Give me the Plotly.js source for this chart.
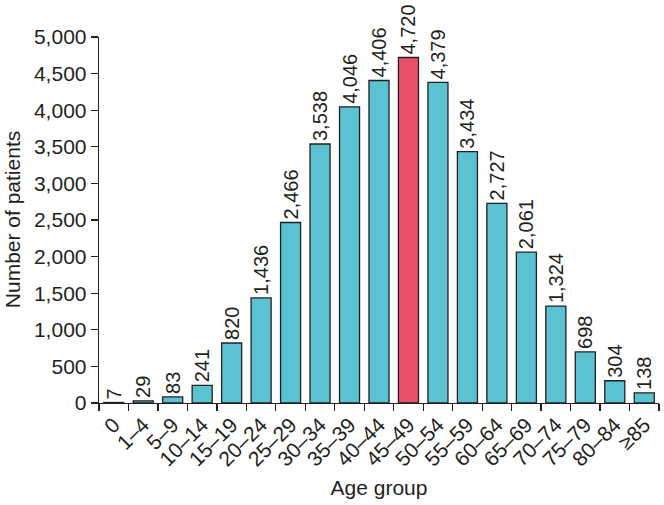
<!DOCTYPE html>
<html><head><meta charset="utf-8">
<script src="https://cdn.plot.ly/plotly-3.0.1.min.js"></script>
<style>html,body{margin:0;padding:0;background:#fff}#c{width:664px;height:505px}</style>
</head><body><div id="c"></div>
<script>
const ageGroups = ["0","1–4","5–9","10–14","15–19","20–24","25–29","30–34","35–39","40–44","45–49","50–54","55–59","60–64","65–69","70–74","75–79","80–84","≥85"];
const patients = [7,29,83,241,820,1436,2466,3538,4046,4406,4720,4379,3434,2727,2061,1324,698,304,138];
const highlightGroup = "45–49";
const yTicks = [0,500,1000,1500,2000,2500,3000,3500,4000,4500,5000];
const xTitle = "Age group";
const yTitle = "Number of patients";

const colors = ageGroups.map(g => g === highlightGroup ? "#E9506B" : "#5BC2D1");
const ink = "#231F20";
const fam = "Liberation Sans, Arial, sans-serif";
const fs = 20;
const trace = {
  type: "bar", x: ageGroups, y: patients,
  marker: {color: colors, line: {color: ink, width: 1.3}},
  texttemplate: "%{y:,}", textposition: "outside", textangle: -90,
  constraintext: "none",
  textfont: {family: fam, size: fs, color: ink},
  cliponaxis: false, hoverinfo: "none"
};
const layout = {
  width: 664, height: 505,
  margin: {l: 99, r: 5, t: 37, b: 102},
  paper_bgcolor: "#fff", plot_bgcolor: "#fff",
  bargap: 0.32, showlegend: false,
  font: {family: fam, size: fs, color: ink},
  xaxis: {
    type: "category", tickangle: -45, tickson: "boundaries", automargin: false,
    ticks: "outside", ticklen: 7, tickcolor: ink, tickwidth: 1.3,
    showline: true, linecolor: ink, linewidth: 1.3, showgrid: false,
    tickfont: {size: 21, color: ink},
    title: {text: xTitle, font: {size: 21, color: ink}, standoff: 10}
  },
  yaxis: {
    range: [0, 5000], tickvals: yTicks, tickformat: ",", automargin: false,
    ticks: "outside", ticklen: 7, tickcolor: ink, tickwidth: 1.3,
    showline: true, linecolor: ink, linewidth: 1.3, showgrid: false, zeroline: false,
    tickfont: {size: 21, color: ink}
  },
  annotations: [{
    text: yTitle, xref: "paper", yref: "paper", x: -0.155, y: 0.5,
    xanchor: "center", yanchor: "middle", textangle: -90, showarrow: false,
    font: {family: fam, size: 21, color: ink}
  }]
};
Plotly.newPlot("c", [trace], layout, {staticPlot: true, displayModeBar: false});
</script></body></html>
